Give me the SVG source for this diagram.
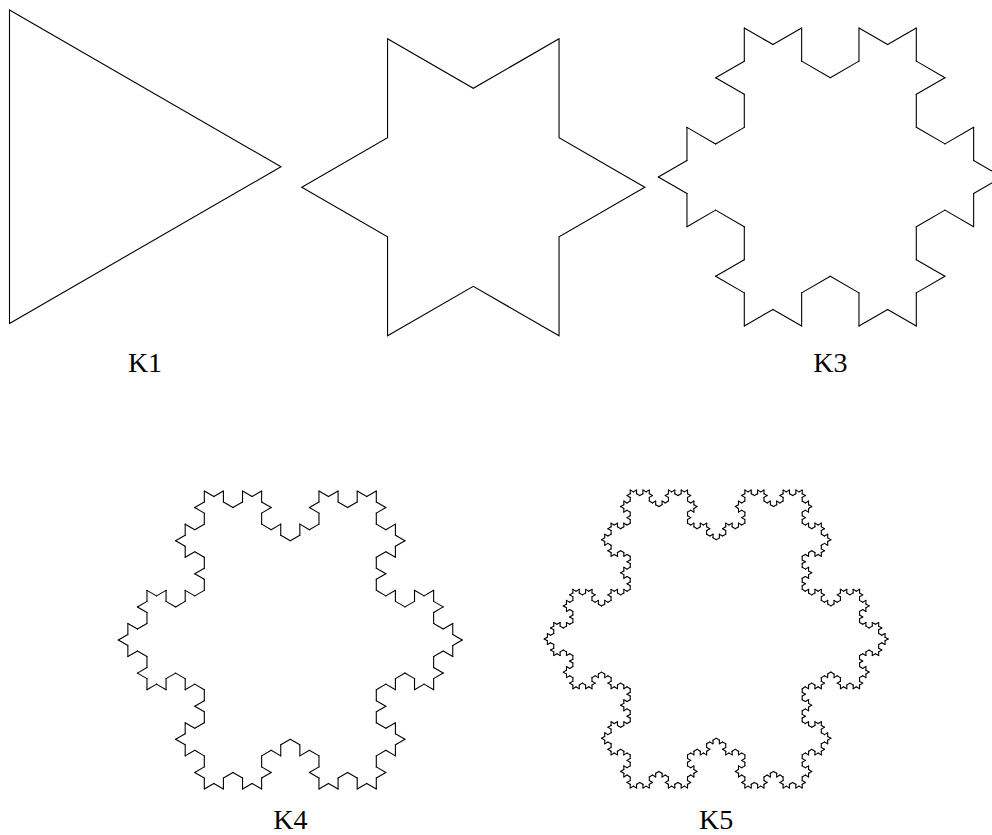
<svg xmlns="http://www.w3.org/2000/svg" xmlns:xlink="http://www.w3.org/1999/xlink" width="992" height="835" viewBox="0 0 992 835">
<style>
.fig{fill:none;stroke:#000;stroke-linecap:round;stroke-linejoin:miter}
.lbl{font-family:"Liberation Serif","Times New Roman",serif;font-size:28px;fill:#000;text-anchor:middle}
</style>
<defs>
<path id="k0" d="M0,0H1"/>
<g id="k1">
<use href="#k0" xlink:href="#k0" transform="scale(0.333333)"/>
<use href="#k0" xlink:href="#k0" transform="translate(0.333333,0) rotate(-60) scale(0.333333)"/>
<use href="#k0" xlink:href="#k0" transform="translate(0.5,-0.288675) rotate(60) scale(0.333333)"/>
<use href="#k0" xlink:href="#k0" transform="translate(0.666667,0) scale(0.333333)"/>
</g>
<g id="k2">
<use href="#k1" xlink:href="#k1" transform="scale(0.333333)"/>
<use href="#k1" xlink:href="#k1" transform="translate(0.333333,0) rotate(-60) scale(0.333333)"/>
<use href="#k1" xlink:href="#k1" transform="translate(0.5,-0.288675) rotate(60) scale(0.333333)"/>
<use href="#k1" xlink:href="#k1" transform="translate(0.666667,0) scale(0.333333)"/>
</g>
<g id="k3">
<use href="#k2" xlink:href="#k2" transform="scale(0.333333)"/>
<use href="#k2" xlink:href="#k2" transform="translate(0.333333,0) rotate(-60) scale(0.333333)"/>
<use href="#k2" xlink:href="#k2" transform="translate(0.5,-0.288675) rotate(60) scale(0.333333)"/>
<use href="#k2" xlink:href="#k2" transform="translate(0.666667,0) scale(0.333333)"/>
</g>
<g id="k4">
<use href="#k3" xlink:href="#k3" transform="scale(0.333333)"/>
<use href="#k3" xlink:href="#k3" transform="translate(0.333333,0) rotate(-60) scale(0.333333)"/>
<use href="#k3" xlink:href="#k3" transform="translate(0.5,-0.288675) rotate(60) scale(0.333333)"/>
<use href="#k3" xlink:href="#k3" transform="translate(0.666667,0) scale(0.333333)"/>
</g>
</defs>

<g id="K1">
<polygon class="fig" stroke-width="1.1" points="9.5,10 281,166.7 9.5,323.5"/>
<text class="lbl" x="145" y="372">K1</text>
</g>

<g id="K2">
<polygon class="fig" stroke-width="1.1" points="644.8,187.3 559.05,137.79 559.05,38.78 473.3,88.28 387.55,38.78 387.55,137.79 301.8,187.3 387.55,236.81 387.55,335.82 473.3,286.32 559.05,335.82 559.05,236.81"/>
</g>

<g id="K3">
<g class="fig" stroke-width="0.0332">
<use href="#k2" xlink:href="#k2" transform="translate(744.3,28.04) rotate(30) scale(297.91)"/>
<use href="#k2" xlink:href="#k2" transform="translate(1002.3,177) rotate(150) scale(297.91)"/>
<use href="#k2" xlink:href="#k2" transform="translate(744.3,325.96) rotate(-90) scale(297.91)"/>
</g>
<text class="lbl" x="830.3" y="372">K3</text>
</g>

<g id="K4">
<g class="fig" stroke-width="0.0997">
<use href="#k3" xlink:href="#k3" transform="translate(204.3,491.04) rotate(30) scale(297.91)"/>
<use href="#k3" xlink:href="#k3" transform="translate(462.3,640) rotate(150) scale(297.91)"/>
<use href="#k3" xlink:href="#k3" transform="translate(204.3,788.96) rotate(-90) scale(297.91)"/>
</g>
<text class="lbl" x="290.3" y="829">K4</text>
</g>

<g id="K5">
<g class="fig" stroke-width="0.299">
<use href="#k4" xlink:href="#k4" transform="translate(630.2,490.04) rotate(30) scale(297.91)"/>
<use href="#k4" xlink:href="#k4" transform="translate(888.2,639) rotate(150) scale(297.91)"/>
<use href="#k4" xlink:href="#k4" transform="translate(630.2,787.96) rotate(-90) scale(297.91)"/>
</g>
<text class="lbl" x="716.2" y="829">K5</text>
</g>
</svg>
